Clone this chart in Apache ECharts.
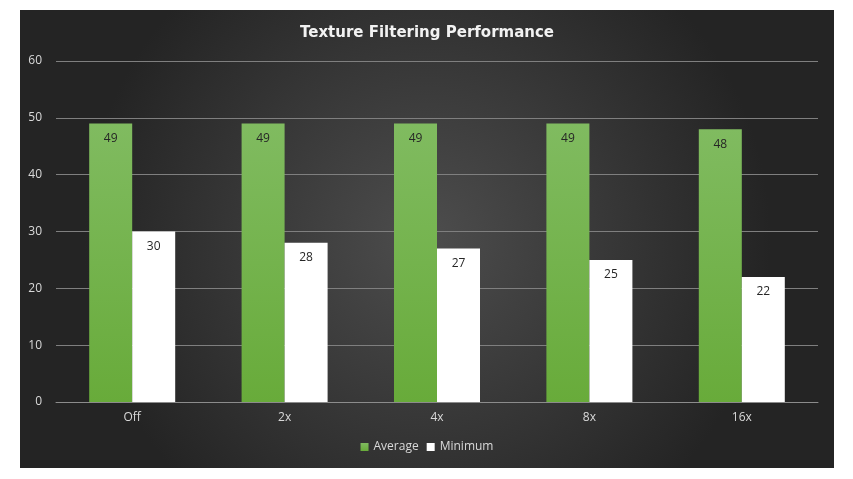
<!DOCTYPE html>
<html>
<head>
<meta charset="utf-8">
<script src="https://cdn.jsdelivr.net/npm/echarts@6/dist/echarts.min.js"></script>
<style>
  html, body { margin: 0; padding: 0; background: #fff; }
  #chart { position: absolute; left: 20px; top: 10px; width: 814px; height: 458px; }
</style>
</head>
<body>
<div id="chart"></div>
<script>
let categories = ['Off', '2x', '4x', '8x', '16x'];
let average = [49, 49, 49, 49, 48];
let minimum = [30, 28, 27, 25, 22];
let yTicks = [0, 10, 20, 30, 40, 50, 60];

let myChart = echarts.init(document.getElementById('chart'));
myChart.setOption({
    backgroundColor: {
        type: 'radial', x: 0.5, y: 0.5, r: 0.75,
        colorStops: [{ offset: 0, color: '#4d4d4d' }, { offset: 1, color: '#242424' }]
    },
    textStyle: { fontFamily: 'Open Sans' },
    title: {
        text: 'Texture Filtering Performance',
        left: 'center',
        top: 11,
        textStyle: { color: '#f2f2f2', fontSize: 15, fontWeight: 'bold', fontFamily: 'DejaVu Sans' }
    },
    legend: {
        bottom: 10,
        itemWidth: 8,
        itemHeight: 8,
        itemGap: 8,
        icon: 'rect',
        textStyle: { color: '#d9d9d9', fontSize: 12 },
        data: ['Average', 'Minimum']
    },
    grid: { left: 36, right: 16, top: 51, bottom: 66 },
    xAxis: {
        type: 'category',
        data: categories,
        axisTick: { show: false },
        axisLine: { lineStyle: { color: '#8c8c8c' } },
        axisLabel: { color: '#d9d9d9', fontSize: 12, margin: 10 }
    },
    yAxis: {
        type: 'value',
        min: yTicks[0],
        max: yTicks[yTicks.length - 1],
        interval: 10,
        axisLine: { show: false },
        axisTick: { show: false },
        axisLabel: { color: '#d9d9d9', fontSize: 12, margin: 14 },
        splitLine: { lineStyle: { color: '#7f7f7f' } }
    },
    series: [{
        name: 'Average',
        type: 'bar',
        data: average,
        barWidth: 43,
        barGap: '0%',
        itemStyle: {
            color: new echarts.graphic.LinearGradient(0, 0, 0, 1, [
                { offset: 0, color: '#80bb60' },
                { offset: 1, color: '#68ab3a' }
            ])
        },
        label: { show: true, position: 'insideTop', distance: 9, color: '#262626', fontSize: 12 }
    }, {
        name: 'Minimum',
        type: 'bar',
        data: minimum,
        barWidth: 43,
        itemStyle: { color: '#ffffff' },
        label: { show: true, position: 'insideTop', distance: 9, color: '#262626', fontSize: 12 }
    }]
});
</script>
</body>
</html>
